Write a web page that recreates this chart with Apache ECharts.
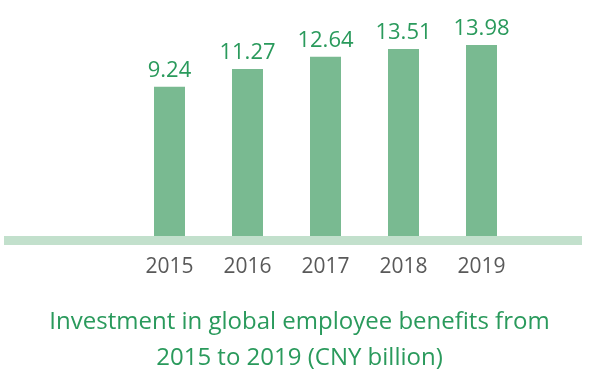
<!DOCTYPE html>
<html>
<head>
<meta charset="utf-8">
<script src="https://cdn.jsdelivr.net/npm/echarts@6/dist/echarts.min.js"></script>
<style>
  html, body { margin: 0; padding: 0; background: #fff; }
  #chart { width: 599px; height: 376px; }
</style>
</head>
<body>
<div id="chart"></div>
<script>
// 全球员工保障投入 2015-2019
var years = ['2015', '2016', '2017', '2018', '2019']
var investment = [9.24, 11.27, 12.64, 13.51, 13.98]
var titleLines = ['Investment in global employee benefits from', '2015 to 2019 (CNY billion)']

var chart = echarts.init(document.getElementById('chart'))
chart.setOption({
  animation: false,
  textStyle: { fontFamily: 'Open Sans' },
  title: {
    text: titleLines.join('\n'),
    left: 'center',
    top: 299,
    textStyle: {
      color: '#2a9a5c',
      fontSize: 24,
      fontWeight: 'normal',
      lineHeight: 36
    }
  },
  grid: [
    { left: 130.5, right: 78.5, top: 27, bottom: 140 },
    // 底部的浅绿色横条
    { left: 4, right: 17, top: 27, bottom: 135.5 }
  ],
  xAxis: [
    {
      type: 'category',
      gridIndex: 0,
      data: years,
      axisLine: { show: false },
      axisTick: { show: false },
      axisLabel: {
        color: '#595959',
        fontSize: 21,
        margin: 21
      }
    },
    {
      type: 'category',
      gridIndex: 1,
      data: [''],
      axisLine: { show: true, lineStyle: { color: '#c2e0cc', width: 9, cap: 'butt' } },
      axisTick: { show: false },
      axisLabel: { show: false }
    }
  ],
  yAxis: [
    {
      type: 'value',
      gridIndex: 0,
      min: -7.6,
      max: 16,
      startValue: -7.6,
      show: false,
      splitLine: { show: false }
    },
    {
      type: 'value',
      gridIndex: 1,
      show: false,
      splitLine: { show: false }
    }
  ],
  series: [
    {
      type: 'bar',
      xAxisIndex: 0,
      yAxisIndex: 0,
      data: investment,
      barWidth: 31,
      itemStyle: { color: '#79ba91' },
      label: {
        show: true,
        position: 'top',
        distance: 5,
        color: '#2a9a5c',
        fontSize: 22
      }
    }
  ]
})
</script>
</body>
</html>
